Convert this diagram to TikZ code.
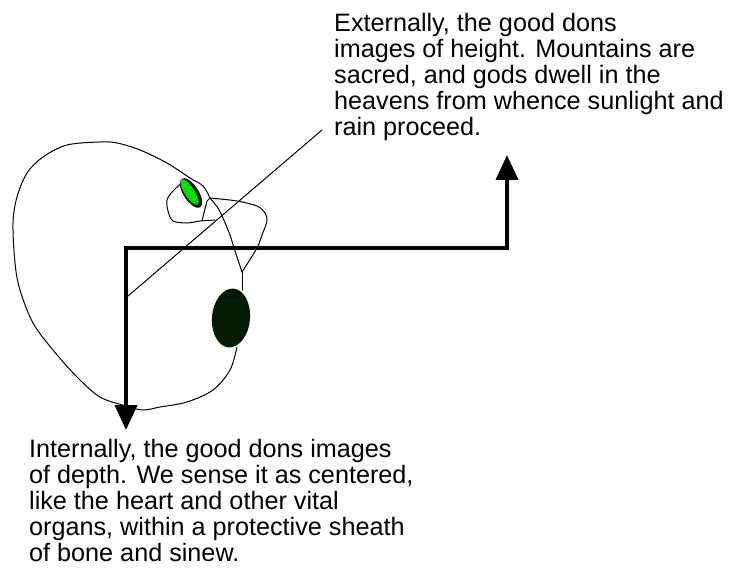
\documentclass[tikz,border=0pt]{standalone}
\usepackage{fontspec}
\setmainfont{Liberation Sans}
\usepackage{xcolor}
\usepackage{tikz}
\usetikzlibrary{arrows.meta}

\definecolor{eyegreen}{RGB}{0,225,0}
\definecolor{heartgreen}{RGB}{0,26,4}

\tikzset{
    sketch/.style={line width=1pt, line join=round, line cap=round},
    axis/.style={line width=4pt, {Triangle[width=22pt,length=25pt]}-{Triangle[width=22pt,length=25pt]}},
    caption/.style={inner sep=0pt, anchor=north west, align=left, font=\fontsize{25.2}{26}\selectfont}
}

\begin{document}
\begin{tikzpicture}[x=1pt, y=-1pt]
    \useasboundingbox (0,0) rectangle (730,569);

    % the two captions
    \node[caption] (outer) at (334,13.5) {Externally, the good dons\\images of height. Mountains are\\sacred, and gods dwell in the\\heavens from whence sunlight and\\rain proceed.};
    \node[caption] (inner) at (29,439) {Internally, the good dons images\\of depth. We sense it as centered,\\like the heart and other vital\\organs, within a protective sheath\\of bone and sinew.};

    % height and depth
    \coordinate (up) at (507,155);
    \coordinate (bend) at (507,248);
    \coordinate (corner) at (126,248);
    \coordinate (down) at (126,430);
    \draw[axis] (up) -- (bend) -- (corner) -- (down);

    % the body
    \coordinate (eye) at (210,198);
    \coordinate (fork) at (242,272);
    \coordinate (heart) at (231,318);
    \draw[sketch] plot[smooth, tension=0.55] coordinates {(eye) (203,186) (190,178) (167,163) (140,150) (117,143) (100,142) (67,145) (43,157) (27,173) (17,197) (13,223) (15,263) (20,290) (33,323) (53,350) (77,377) (100,397) (126,406) (143,410) (160,407) (187,402) (213,390) (230,370) (237,347)};
    \draw[sketch] plot[smooth, tension=0.5] coordinates {(186,179) (173,191) (167,200) (168,211) (173,221) (187,223) (200,221) (215,220)};
    \draw[sketch] (202,221) -- (207,201) -- (eye);
    \draw[sketch] plot[smooth, tension=0.4] coordinates {(eye) (218,208) (223,218) (230,235) (235,251) (fork)};
    \draw[sketch] plot[smooth, tension=0.5] coordinates {(eye) (237,201) (257,206) (265,213) (267,221) (262,235) (257,248) (fork)};
    \draw[sketch] (fork) -- (242,290);

    % eye and heart
    \fill[black] (191,193) ellipse [x radius=17pt, y radius=7.5pt, rotate=-57];
    \fill[eyegreen] (189.5,192) ellipse [x radius=15pt, y radius=5pt, rotate=-57];
    \fill[heartgreen] (heart) ellipse [x radius=19pt, y radius=29.5pt, rotate=-5];

    % reaching up
    \coordinate (root) at (128,296);
    \coordinate (reach) at (322,130);
    \draw[sketch] (root) -- (reach);
\end{tikzpicture}
\end{document}
